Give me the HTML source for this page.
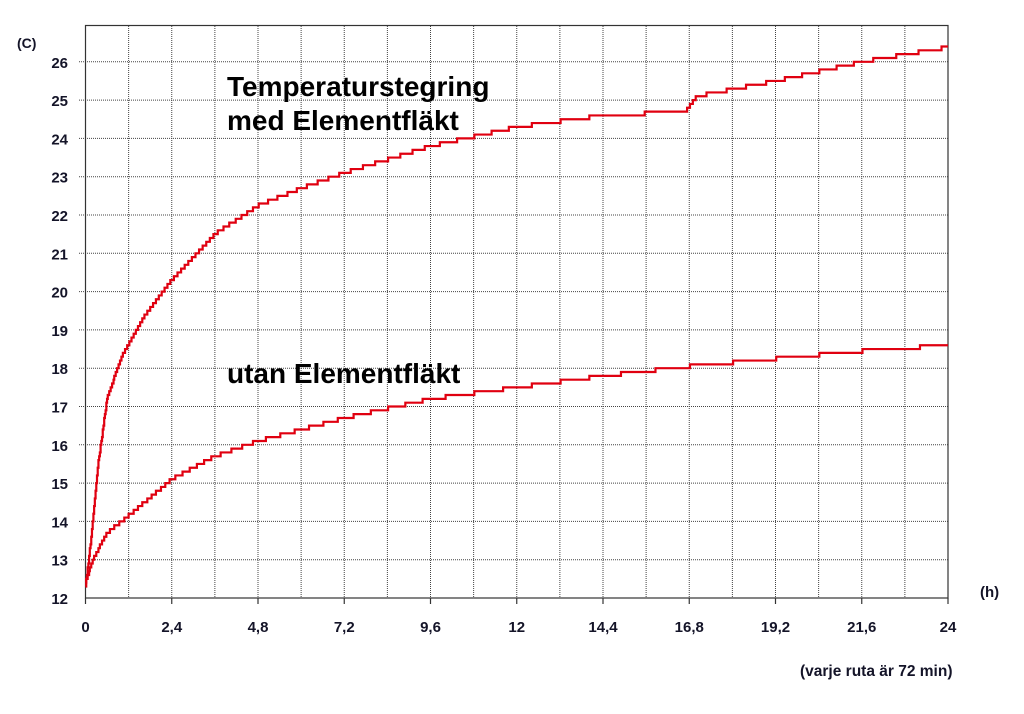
<!DOCTYPE html>
<html><head><meta charset="utf-8"><style>
body{margin:0;background:#fff;}
svg{display:block;font-family:"Liberation Sans",Arial,sans-serif;}
</style></head><body>
<svg id="s" width="1024" height="714" viewBox="0 0 1024 714">
<g id="grid" stroke="#444" stroke-width="1" stroke-dasharray="1,1"></g>
<rect x="85.5" y="25.5" width="862.5" height="572.5" fill="none" stroke="#333" stroke-width="1.2"/>
<g id="ticks" stroke="#333" stroke-width="1.2"></g>
<g id="lbl" font-weight="bold" font-size="15" fill="#141428"></g>
<text x="17" y="48" font-weight="bold" font-size="14" fill="#141428">(C)</text>
<text x="980" y="597" font-weight="bold" font-size="15" fill="#141428">(h)</text>
<text x="800" y="676" font-weight="bold" font-size="15.5" fill="#141428">(varje ruta är 72 min)</text>
<text x="227" y="96" font-weight="bold" font-size="28" fill="#000">Temperaturstegring</text>
<text x="227" y="130" font-weight="bold" font-size="28" fill="#000">med Elementfläkt</text>
<text x="227" y="383" font-weight="bold" font-size="28" fill="#000">utan Elementfläkt</text>
<path id="c1" fill="none" stroke="#e00010" stroke-width="2.2"/>
<path id="c2" fill="none" stroke="#e00010" stroke-width="2.2"/>
</svg>
<script>
var NS="http://www.w3.org/2000/svg";
function X(h){return 85.5+h/24*862.5;}
function Y(t){return 598-(t-12)*38.3;}
function el(p,n,a,txt){var e=document.createElementNS(NS,n);for(var k in a)e.setAttribute(k,a[k]);if(txt!==undefined)e.textContent=txt;document.getElementById(p).appendChild(e);}
for(var i=1;i<20;i++){var x=X(i*1.2);el('grid','line',{x1:x,y1:26,x2:x,y2:598});}
for(var t=13;t<=26;t++){var y=Y(t);el('grid','line',{x1:79,y1:y,x2:948,y2:y});
 el('lbl','text',{x:68,y:y+6,'text-anchor':'end'},String(t));}
el('lbl','text',{x:68,y:598+6,'text-anchor':'end'},'12');
for(var i=0;i<=10;i++){var h=i*2.4,x=X(h);el('ticks','line',{x1:x,y1:598,x2:x,y2:604});
 var s=(Math.round(h*10)/10).toString().replace('.',',');
 el('lbl','text',{x:x,y:632,'text-anchor':'middle'},s);}
function curve(id,pts){
 function f(h){for(var i=0;i<pts.length-1;i++){if(h<=pts[i+1][0]){var a=pts[i],b=pts[i+1];return a[1]+(b[1]-a[1])*(h-a[0])/(b[0]-a[0]);}}return pts[pts.length-1][1];}
 var d="",prev=null;
 for(var h=0;h<=24.0001;h+=0.02){var v=Math.round(f(h)*10)/10;var x=X(h),y=Y(v);
  if(prev===null)d="M"+x+","+y;else if(v!==prev)d+="H"+x+"V"+y;prev=v;}
 d+="H"+X(24);document.getElementById(id).setAttribute('d',d);}
curve('c1',[[0,12.3],[0.15,13.5],[0.35,15.5],[0.6,17.2],[1,18.3],[1.6,19.3],[2.4,20.3],[3.6,21.5],[4.8,22.25],[6,22.7],[7.2,23.1],[9.6,23.8],[12,24.3],[14.4,24.6],[16.7,24.7],[17,25.1],[19.2,25.5],[21.6,26.0],[24,26.38]]);
curve('c2',[[0,12.4],[0.2,13.0],[0.6,13.7],[1.2,14.15],[2.4,15.1],[3.6,15.7],[4.8,16.1],[7.2,16.7],[9.6,17.2],[12,17.5],[14.4,17.8],[16.8,18.05],[19.2,18.25],[21.6,18.45],[24,18.6]]);
</script>
</body></html>
